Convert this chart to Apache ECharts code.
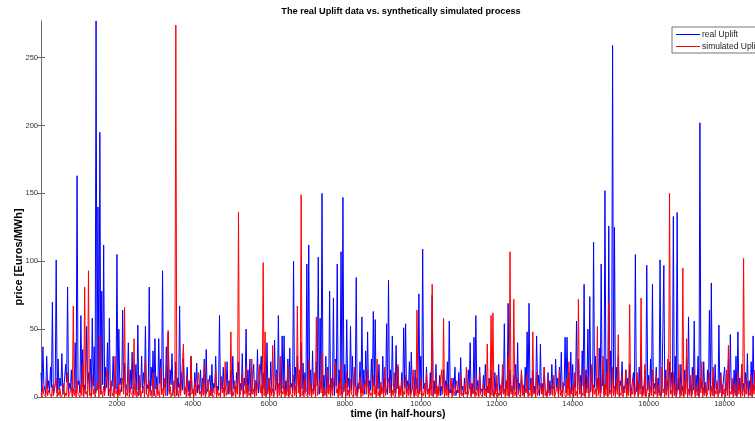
<!DOCTYPE html>
<html>
<head>
<meta charset="utf-8">
<title>Uplift</title>
<script src="https://cdn.jsdelivr.net/npm/echarts@6/dist/echarts.min.js"></script>
<style>
    html, body { margin: 0; padding: 0; background: #fff; }
    #upliftChart { width: 755px; height: 421px; }
</style>
</head>
<body>
<div id="upliftChart"></div>
<script>
// one value every 25 half-hours
var step = 25;
var realUplift = [
    18,4, 37,9, 8,2, 30,6, 12,3, 22,7, 70,1, 5,10, 101,3, 28,5,
    14,8, 32,2, 6,5, 24,11, 81,3, 10,6, 20,1, 4,7, 40,4, 163,9,
    12,3, 60,7, 35,2, 9,6, 52,10, 18,4, 28,1, 58,8, 37,3, 277,5,
    140,6, 195,2, 78,9, 112,4, 22,7, 40,1, 58,5, 10,8, 30,3, 16,6,
    105,2, 50,9, 14,4, 64,7, 25,1, 8,10, 40,3, 20,6, 33,2, 6,8,
    24,5, 53,1, 12,7, 30,3, 18,9, 52,2, 9,6, 81,4, 22,8, 34,1,
    43,6, 15,3, 43,10, 28,2, 93,5, 10,7, 37,1, 48,4, 20,9, 32,3,
    8,6, 26,1, 14,7, 67,3, 18,5, 28,2, 6,8, 22,4, 12,1, 30,6,
    4,2, 18,7, 25,3, 9,5, 20,1, 14,8, 28,2, 35,4, 6,6, 16,1,
    24,3, 10,7, 30,2, 8,5, 60,1, 15,6, 22,3, 5,8, 26,2, 12,4,
    20,1, 30,6, 8,3, 18,7, 26,2, 10,5, 32,1, 14,8, 50,3, 20,4,
    28,2, 6,7, 24,1, 12,5, 35,3, 9,8, 30,2, 18,6, 22,1, 40,4,
    14,3, 26,7, 8,2, 42,5, 20,1, 60,8, 18,3, 45,6, 45,2, 12,4,
    28,1, 36,7, 10,3, 100,5, 22,2, 30,8, 14,1, 40,6, 25,3, 18,4,
    98,2, 112,7, 20,1, 34,5, 10,3, 26,8, 103,2, 58,6, 150,1, 16,4,
    30,3, 22,7, 78,2, 12,5, 73,1, 28,8, 98,3, 20,6, 107,2, 147,4,
    24,1, 57,7, 14,3, 52,5, 30,2, 18,8, 88,1, 10,6, 26,3, 59,4,
    20,2, 34,7, 48,1, 12,5, 28,3, 63,8, 57,2, 16,6, 24,1, 8,4,
    30,3, 14,7, 54,2, 86,5, 20,1, 45,8, 10,3, 38,6, 22,2, 6,4,
    18,1, 51,7, 54,3, 12,5, 26,2, 33,8, 8,1, 20,6, 14,3, 76,4,
    30,2, 109,6, 10,1, 22,4, 6,2, 18,5, 75,1, 12,3, 24,2, 4,6,
    16,1, 8,4, 20,2, 12,5, 26,1, 56,3, 6,2, 14,6, 22,1, 5,3,
    18,2, 29,5, 8,1, 14,4, 4,2, 20,6, 40,1, 10,3, 44,2, 60,5,
    12,1, 22,4, 6,2, 16,5, 24,1, 8,3, 14,2, 20,6, 5,1, 18,4,
    10,2, 24,5, 6,1, 15,3, 54,2, 12,6, 69,1, 20,4, 8,2, 16,5,
    24,1, 40,3, 10,2, 18,6, 6,1, 22,4, 48,2, 69,5, 14,1, 20,3,
    8,2, 45,6, 16,1, 39,4, 10,2, 22,5, 6,1, 18,3, 12,2, 24,6,
    8,3, 28,7, 14,2, 22,5, 33,1, 10,8, 44,3, 44,6, 18,2, 33,4,
    24,1, 12,7, 56,3, 28,5, 16,2, 34,8, 83,1, 20,6, 50,3, 74,4,
    22,2, 114,7, 30,1, 14,5, 36,3, 98,8, 20,2, 152,6, 28,1, 126,4,
    34,3, 259,7, 125,2, 22,5, 30,1, 12,8, 26,3, 8,6, 20,2, 14,4,
    24,1, 6,5, 18,2, 105,4, 12,1, 22,6, 30,2, 8,3, 20,1, 97,5,
    16,2, 28,4, 83,1, 10,6, 22,2, 14,3, 101,1, 6,5, 97,2, 20,4,
    12,1, 26,6, 18,2, 133,3, 30,1, 136,5, 14,2, 24,4, 8,1, 20,6,
    28,2, 59,3, 10,1, 22,5, 56,2, 16,4, 30,1, 202,6, 12,2, 26,3,
    8,1, 20,5, 64,2, 84,4, 14,1, 24,6, 10,2, 53,3, 18,1, 6,5,
    22,2, 12,4, 28,1, 46,6, 8,2, 20,3, 30,1, 48,5, 14,2, 24,4,
    10,1, 18,6, 32,2, 12,3, 26,1, 45,5, 20
];
var simulatedUplift = [
    3,0, 8,2, 1,0, 12,1, 5,3, 2,0, 9,1, 0,2, 14,0, 4,1,
    6,0, 1,2, 10,0, 3,1, 18,0, 2,3, 7,0, 67,1, 5,0, 12,2,
    2,0, 9,1, 24,0, 81,2, 4,0, 93,1, 3,0, 16,2, 6,0, 1,1,
    11,0, 45,2, 4,0, 8,1, 2,0, 20,3, 6,0, 12,1, 3,0, 30,2,
    5,0, 9,1, 1,0, 14,2, 66,0, 3,1, 22,0, 7,2, 2,0, 43,1,
    10,0, 4,2, 16,0, 1,1, 8,0, 27,3, 3,0, 12,1, 5,0, 18,2,
    2,0, 9,1, 4,0, 22,2, 6,0, 14,1, 1,0, 49,2, 8,0, 3,1,
    12,0, 274,2, 5,0, 10,1, 2,0, 39,3, 7,0, 15,1, 3,0, 30,2,
    6,0, 11,1, 1,0, 18,2, 4,0, 9,1, 24,0, 2,2, 13,0, 5,1,
    8,0, 1,2, 20,0, 6,1, 3,0, 14,3, 7,0, 26,1, 2,0, 10,2,
    48,0, 4,1, 12,0, 8,2, 136,0, 2,1, 16,0, 5,2, 22,0, 9,1,
    3,0, 28,2, 6,0, 12,1, 1,0, 24,3, 9,0, 99,1, 48,0, 4,2,
    14,0, 7,1, 38,0, 2,2, 18,0, 10,1, 30,0, 4,2, 12,0, 6,1,
    24,0, 9,2, 2,0, 16,1, 8,0, 67,3, 20,0, 149,1, 5,0, 14,2,
    3,0, 28,1, 10,0, 6,2, 18,0, 59,1, 2,0, 12,3, 32,0, 7,1,
    4,0, 20,2, 9,0, 14,1, 2,0, 26,3, 6,0, 11,1, 24,0, 3,2,
    10,0, 18,1, 5,0, 13,2, 1,0, 22,1, 8,0, 4,3, 15,0, 9,1,
    2,0, 12,2, 20,0, 6,1, 3,0, 16,2, 8,0, 28,1, 4,0, 11,2,
    7,0, 22,1, 2,0, 14,3, 9,0, 5,1, 18,0, 3,2, 24,0, 8,1,
    12,0, 4,2, 16,0, 6,1, 10,0, 2,3, 20,0, 8,1, 64,0, 5,2,
    13,0, 3,1, 9,0, 18,2, 6,0, 11,1, 83,0, 4,2, 15,0, 8,1,
    2,0, 20,2, 58,0, 6,1, 10,0, 3,2, 14,0, 8,1, 1,0, 12,3,
    5,0, 16,1, 3,0, 9,2, 22,0, 2,1, 11,0, 6,2, 14,0, 4,1,
    8,0, 18,2, 3,0, 10,1, 6,0, 39,3, 12,0, 60,1, 62,0, 5,2,
    16,0, 3,1, 9,0, 24,2, 6,0, 12,1, 30,0, 107,2, 8,0, 72,1,
    4,0, 14,2, 2,0, 20,1, 9,0, 6,3, 16,0, 3,1, 11,0, 48,2,
    5,0, 18,1, 2,0, 10,2, 7,0, 22,1, 4,0, 13,3, 1,0, 9,1,
    16,0, 3,2, 8,0, 20,1, 5,0, 11,2, 2,0, 14,1, 26,0, 6,2,
    9,0, 18,1, 4,0, 72,2, 12,0, 3,1, 20,0, 7,3, 15,0, 2,1,
    24,0, 9,2, 6,0, 52,1, 14,0, 3,2, 30,0, 10,1, 18,0, 70,2,
    5,0, 22,1, 8,0, 12,2, 46,0, 3,1, 16,0, 6,3, 20,0, 9,1,
    68,0, 4,2, 14,0, 2,1, 18,0, 10,2, 73,0, 6,1, 24,0, 3,2,
    12,0, 8,1, 20,0, 4,2, 16,0, 9,1, 3,0, 22,3, 6,0, 14,1,
    28,0, 150,2, 5,0, 18,1, 10,0, 3,2, 24,0, 8,1, 95,0, 12,2,
    43,0, 6,1, 16,0, 2,2, 20,0, 9,1, 4,0, 14,3, 26,0, 7,1,
    11,0, 3,2, 18,0, 8,1, 22,0, 5,2, 12,0, 2,1, 16,0, 9,2,
    6,0, 20,1, 38,0, 4,2, 14,0, 10,1, 3,0, 18,2, 8,0, 24,1,
    102,0, 6,2, 12,0, 3,1, 16,0, 9,2, 20
];
var seriesNames = ['real Uplift', 'simulated Uplift'];
var xTicks = [2000, 4000, 6000, 8000, 10000, 12000, 14000, 16000, 18000];
var yTicks = [0, 50, 100, 150, 200, 250];

var toPoints = function (values) {
    return values.map(function (v, i) { return [i * step, v]; });
};
var plain = function (v) { return String(v); };

var myChart = echarts.init(document.getElementById('upliftChart'));
var frame = '#6a6a6a';
var font = 'Liberation Sans, Arial, sans-serif';
var tick = { inside: true, length: 4, lineStyle: { color: frame } };

var option = {
    animation: false,
    backgroundColor: '#fff',
    title: {
        text: 'The real Uplift data vs. synthetically simulated process',
        left: 401,
        top: 7,
        padding: 0,
        textAlign: 'center',
        textStyle: { fontFamily: font, fontSize: 9.2, fontWeight: 'bold', color: '#000' }
    },
    legend: {
        data: seriesNames,
        orient: 'vertical',
        left: 672,
        top: 27,
        padding: [3, 4, 2, 4],
        itemGap: 3,
        itemWidth: 24,
        itemHeight: 1,
        icon: 'rect',
        borderColor: '#777',
        borderWidth: 1,
        backgroundColor: '#fff',
        textStyle: { fontFamily: font, fontSize: 8.5, color: '#222', padding: [0, 0, 0, -3] }
    },
    grid: { left: 41, right: 0, top: 21, bottom: 24, outerBoundsMode: 'none' },
    xAxis: [{
        type: 'value',
        min: 0,
        max: 18800,
        name: 'time (in half-hours)',
        nameLocation: 'middle',
        nameGap: 12,
        nameMoveOverlap: false,
        nameTextStyle: { fontFamily: font, fontSize: 10.5, fontWeight: 'bold', color: '#000' },
        axisLine: { lineStyle: { color: frame } },
        axisTick: Object.assign({ customValues: xTicks }, tick),
        axisLabel: { fontFamily: font, fontSize: 7.5, color: '#333', margin: 3, customValues: xTicks, formatter: plain },
        splitLine: { show: false }
    }, {
        type: 'value',
        position: 'top',
        min: 0,
        max: 18800,
        axisLine: { lineStyle: { color: frame } },
        axisTick: Object.assign({ customValues: xTicks }, tick),
        axisLabel: { show: false },
        splitLine: { show: false }
    }],
    yAxis: [{
        type: 'value',
        min: 0,
        max: 277,
        name: 'price [Euros/MWh]',
        nameLocation: 'middle',
        nameGap: 17,
        nameMoveOverlap: false,
        nameTextStyle: {
            fontFamily: font, fontSize: 11, fontWeight: 'bold', color: '#000',
            padding: [0, 96, 0, 0]
        },
        axisLine: { show: true, lineStyle: { color: frame } },
        axisTick: Object.assign({ show: true, customValues: yTicks }, tick),
        axisLabel: { fontFamily: font, fontSize: 7.5, color: '#333', margin: 3, customValues: yTicks, formatter: plain },
        splitLine: { show: false }
    }, {
        type: 'value',
        position: 'right',
        min: 0,
        max: 277,
        axisLine: { show: true, lineStyle: { color: frame } },
        axisTick: Object.assign({ show: true, customValues: yTicks }, tick),
        axisLabel: { show: false },
        splitLine: { show: false }
    }],
    series: [{
        name: seriesNames[0],
        type: 'line',
        xAxisIndex: 0,
        yAxisIndex: 0,
        symbol: 'none',
        itemStyle: { color: '#0000ff' },
        lineStyle: { width: 1, color: '#0000ff' },
        data: toPoints(realUplift)
    }, {
        name: seriesNames[1],
        type: 'line',
        xAxisIndex: 0,
        yAxisIndex: 0,
        symbol: 'none',
        itemStyle: { color: '#ff0000' },
        lineStyle: { width: 1, color: '#ff0000' },
        data: toPoints(simulatedUplift)
    }]
};
myChart.setOption(option);
</script>
</body>
</html>
